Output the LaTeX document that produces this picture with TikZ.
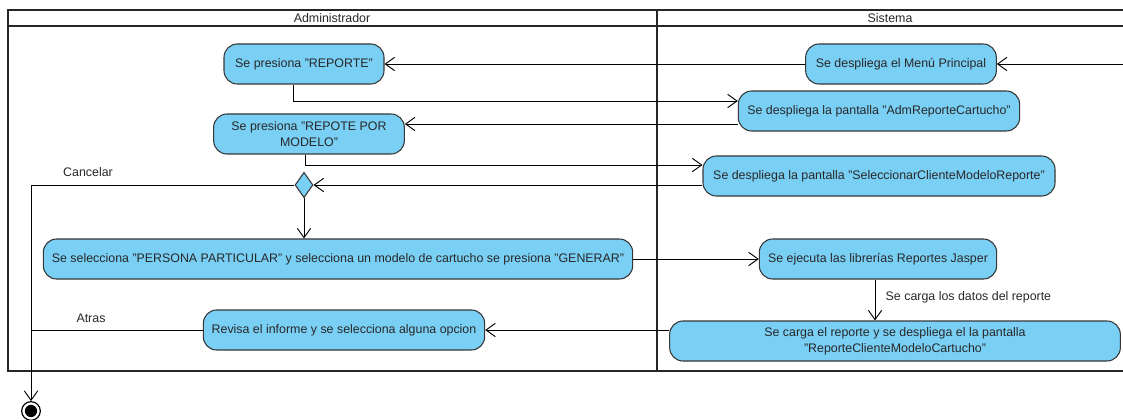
\documentclass[tikz,border=0pt]{standalone}
\usepackage{fontspec}
\setmainfont{Liberation Sans}
\usetikzlibrary{shapes.geometric,arrows.meta}
\definecolor{actfill}{RGB}{122,207,245}
\definecolor{actline}{RGB}{55,55,55}
\definecolor{txt}{RGB}{40,40,40}

\begin{document}
\begin{tikzpicture}[x=0.75pt,y=-0.75pt,
    font=\fontsize{9.3}{12}\selectfont,text=txt,
    act/.style={draw=actline,fill=actfill,line width=0.8pt,rounded corners=10pt,
      minimum height=30pt,inner sep=2pt,align=center},
    flow/.style={-{Straight Barb[length=7pt,width=10pt]},line width=0.7pt},
    lane/.style={line width=1.5pt,draw=black!85}]
    \fill[white] (0,0) rectangle (1123,420);
    \useasboundingbox (0,0) rectangle (1123,420);
    % swimlanes
    \draw[lane] (1123,10) -- (8,10) -- (8,371) -- (1123,371);
    \draw[lane] (8,26) -- (1123,26);
    \draw[lane] (657,10) -- (657,371);
    \node (ladm) at (332,18) {Administrador};
    \node (lsis) at (890,18) {Sistema};
    % actions
    \node[act,minimum width=120pt] (rep) at (304,64) {Se presiona "REPORTE"};
    \node[act,minimum width=143pt] (menu) at (901,64) {Se despliega el Menú Principal};
    \node[act,minimum width=211pt] (adm) at (879,111) {Se despliega la pantalla "AdmReporteCartucho"};
    \node[act,minimum width=143pt] (repm) at (309,134) {Se presiona "REPOTE POR\\MODELO"};
    \node[act,minimum width=264pt] (sel) at (879,176) {Se despliega la pantalla "SeleccionarClienteModeloReporte"};
    \node[diamond,draw=actline,fill=actfill,line width=0.8pt,inner sep=0pt,
      minimum width=13.5pt,minimum height=19pt] (dec) at (304,185) {};
    \node[act,minimum width=442pt] (gen) at (338,259) {Se selecciona "PERSONA PARTICULAR" y selecciona un modelo de cartucho se presiona "GENERAR"};
    \node[act,minimum width=178pt] (jas) at (878,259) {Se ejecuta las librerías Reportes Jasper};
    \node[act,minimum width=338pt] (car) at (895,341) {Se carga el reporte y se despliega el la pantalla\\"ReporteClienteModeloCartucho"};
    \node[act,minimum width=211pt] (rev) at (344,330) {Revisa el informe y se selecciona alguna opcion};
    \node[circle,draw=black,line width=0.9pt,inner sep=0pt,minimum size=14pt] (fin) at (31,411) {};
    \fill (fin.center) circle (4.6pt);
    \coordinate (start) at (1123,64);
    % labels
    \node (lcan) at (88,172) {Cancelar};
    \node (latr) at (91,318) {Atras};
    \node[anchor=west] (ldat) at (881,297) {Se carga los datos del reporte};
    % flows
    \draw[flow] (start) -- (menu);
    \draw[flow] (menu) -- (rep);
    \draw[flow] (rep.south -| 293,0) |- (adm.west |- 0,101);
    \draw[flow] (adm.west |- 0,124) -- (repm.east |- 0,124);
    \draw[flow] (repm.south -| 305,0) |- (sel.west |- 0,165);
    \draw[flow] (sel.west |- dec.east) -- (dec.east);
    \draw[flow] (dec.south) -- (dec.south |- gen.north);
    \draw[flow] (dec.west) -| (fin.north);
    \draw[flow] (gen) -- (jas);
    \draw[flow] (jas.south -| 875,0) -- (car.north -| 875,0);
    \draw[flow] (car.west |- rev.east) -- (rev.east);
    \draw[line width=0.7pt] (rev.west) -- (rev.west -| fin.north);
\end{tikzpicture}
\end{document}
